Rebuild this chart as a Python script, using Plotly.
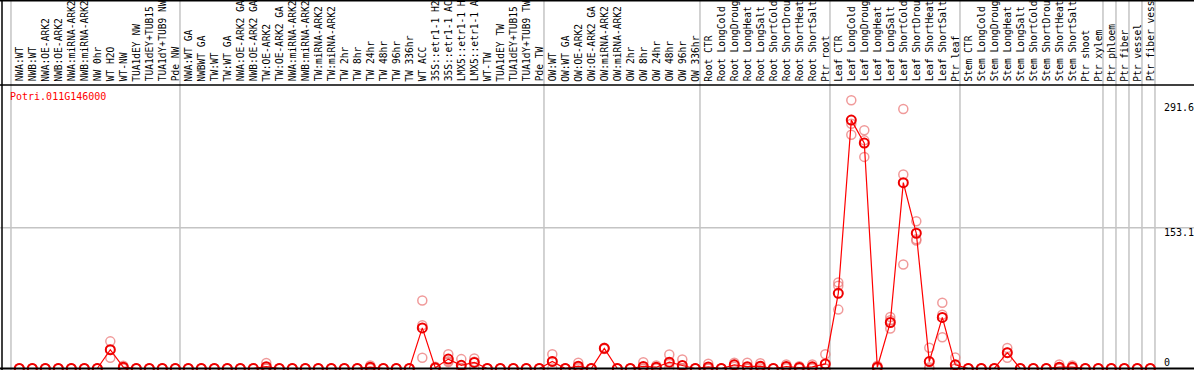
import plotly.graph_objects as go

W, H = 1194, 370

labels = [
    "NWA:WT", "NWB:WT", "NWA:OE-ARK2", "NWB:OE-ARK2", "NWA:miRNA-ARK2", "NWB:miRNA-ARK2",
    "NW 0hr", "WT H2O", "WT-NW", "TUA1dEY NW", "TUA1dEY+TUB15", "TUA1dY+TUB9 NW", "Pde NW",
    "NWA:WT GA", "NWBWT GA", "TW:WT", "TW:WT GA", "NWA:OE-ARK2 GA", "NWB:OE-ARK2 GA",
    "TW:OE-ARK2", "TW:OE-ARK2 GA", "NWA:miRNA-ARK2", "NWB:miRNA-ARK2", "TW:miRNA-ARK2",
    "TW:miRNA-ARK2", "TW 2hr", "TW 8hr", "TW 24hr", "TW 48hr", "TW 96hr", "TW 336hr",
    "WT ACC", "35S::etr1-1 H2", "35S::etr1-1 AC", "LMX5::etr1-1 H", "LMX5::etr1-1 A",
    "WT-TW", "TUA1dEY TW", "TUA1dEY+TUB15", "TUA1dY+TUB9 TW", "Pde TW",
    "OW:WT", "OW:WT GA", "OW:OE-ARK2", "OW:OE-ARK2 GA", "OW:miRNA-ARK2", "OW:miRNA-ARK2",
    "OW 2hr", "OW 8hr", "OW 24hr", "OW 48hr", "OW 96hr", "OW 336hr",
    "Root CTR", "Root LongCold", "Root LongDroug", "Root LongHeat", "Root LongSalt",
    "Root ShortCold", "Root ShortDrou", "Root ShortHeat", "Root ShortSalt", "Ptr root",
    "Leaf CTR", "Leaf LongCold", "Leaf LongDroug", "Leaf LongHeat", "Leaf LongSalt",
    "Leaf ShortCold", "Leaf ShortDrou", "Leaf ShortHeat", "Leaf ShortSalt", "Ptr leaf",
    "Stem CTR", "Stem LongCold", "Stem LongDroug", "Stem LongHeat", "Stem LongSalt",
    "Stem ShortCold", "Stem ShortDrou", "Stem ShortHeat", "Stem ShortSalt", "Ptr shoot",
    "Ptr xylem", "Ptr phloem", "Ptr fiber", "Ptr vessel", "Ptr fiber vess",
]

# last sample index of each group (separators drawn after these)
group_ends = [-1, 12, 40, 52, 62, 72, 83, 84, 85, 86, 87]

# mean expression per sample
mean = [
    0, 0, 0, 0, 0, 0, 0, 20.4, 1.4, 0, 0, 0, 0,
    0, 0, 0, 0, 0, 0, 2.0, 0, 0, 0, 0, 0, 0, 0, 1.4, 0, 0, 0,
    44.1, 0.7, 10.2, 3.4, 6.6, 0, 0, 0, 0, 0,
    7.7, 0, 2.5, 0, 21.9, 0, 0, 2.3, 1.4, 6.9, 3.3, 0,
    1.7, 0, 4.0, 2.0, 2.5, 0, 2.2, 1.1, 1.8, 5.0,
    81.7, 270.0, 245.0, 1.4, 50.0, 202.0, 147.0, 7.5, 55.5, 4.0,
    0, 0, 0, 17.2, 0, 0, 0, 1.4, 1.4, 0,
    0, 0, 0, 0, 0,
]

# replicate values
rep1 = [
    0, 0, 0, 0, 0, 0, 0, 29.5, 3.0, 0, 0, 0, 0,
    0, 0, 0, 0, 0, 0, 6.0, 0, 0, 0, 0, 0, 0, 0, 3.3, 0, 0, 0,
    74.0, 2.0, 15.6, 10.2, 10.9, 0, 0, 0, 0, 0,
    15.6, 0, 6.2, 0, 22.5, 0, 0, 6.9, 3.3, 15.3, 9.8, 0,
    5.1, 0, 6.2, 6.2, 5.8, 0, 4.4, 2.5, 4.4, 15.5,
    93.5, 291.6, 259.0, 3.0, 56.0, 282.0, 160.0, 22.5, 71.5, 12.0,
    0, 0, 0, 22.2, 0, 0, 0, 4.4, 3.3, 0,
    0, 0, 0, 0, 0,
]
rep2 = [
    0, 0, 0, 0, 0, 0, 0, 20.0, 1.0, 0, 0, 0, 0,
    0, 0, 0, 0, 0, 0, 0, 0, 0, 0, 0, 0, 0, 0, 1.0, 0, 0, 0,
    47.0, 0, 8.0, 0, 7.3, 0, 0, 0, 0, 0,
    7.5, 0, 1.0, 0, 21.9, 0, 0, 0, 1.0, 5.0, 0, 0,
    0, 0, 4.0, 0, 1.7, 0, 2.0, 0.8, 1.0, 0,
    90.0, 266.0, 248.0, 1.0, 52.5, 211.0, 140.5, 1.4, 58.5, 0,
    0, 0, 0, 17.5, 0, 0, 0, 0, 1.0, 0,
    0, 0, 0, 0, 0,
]
rep3 = [
    0, 0, 0, 0, 0, 0, 0, 11.7, 0, 0, 0, 0, 0,
    0, 0, 0, 0, 0, 0, 0, 0, 0, 0, 0, 0, 0, 0, 0, 0, 0, 0,
    11.7, 0, 6.9, 0, 0.8, 0, 0, 0, 0, 0,
    0, 0, 0, 0, 21.3, 0, 0, 0, 0, 0.5, 0, 0,
    0, 0, 1.8, 0, 0, 0, 0.2, 0, 0, 0,
    64.0, 254.0, 230.0, 0, 43.4, 113.0, 139.0, 0, 34.0, 0,
    0, 0, 0, 11.7, 0, 0, 0, 0, 0, 0,
    0, 0, 0, 0, 0,
]

gene = "Potri.011G146000"
ytick_vals = [291.6, 153.1, 0]
ytick_text = ["291.6", "153.1", "0"]

# pixel geometry
X0PX, DXPX = 19.3, 13.0          # pixel of first sample, spacing
Y0PX, DYPX = 368.5, 0.92         # pixel of value 0, pixels per unit
xr = [-X0PX / DXPX, (W - X0PX) / DXPX]
yr = [-(H - Y0PX) / DYPX, Y0PX / DYPX]

def py(p):
    return 1 - p / H

x = list(range(len(labels)))
mono = "DejaVu Sans Mono"

fig = go.Figure()
reps_x, reps_y = [], []
for r in (rep1, rep2, rep3):
    reps_x += x
    reps_y += r
fig.add_trace(go.Scatter(
    x=reps_x, y=reps_y, mode="markers", hoverinfo="skip",
    marker=dict(symbol="circle-open", size=9, color="rgba(235,120,120,0.75)",
                line=dict(width=1.5)),
    showlegend=False, cliponaxis=False))
fig.add_trace(go.Scatter(
    x=x, y=mean, mode="lines+markers",
    line=dict(color="#ff0000", width=1.2),
    marker=dict(symbol="circle-open", size=9, color="#ee0000", line=dict(width=2)),
    showlegend=False, cliponaxis=False))

shapes = []
for e in group_ends:
    xv = e + 0.5 - 0.14
    shapes.append(dict(type="line", xref="x", yref="paper", x0=xv, x1=xv, y0=0, y1=1,
                       line=dict(color="#c4c4c4", width=1.5), layer="below"))
shapes.append(dict(type="line", xref="paper", yref="y", x0=0, x1=1, y0=153.1, y1=153.1,
                   line=dict(color="#c4c4c4", width=1.5), layer="below"))
# frame lines
shapes.append(dict(type="line", xref="paper", yref="paper", x0=0, x1=1, y0=py(85), y1=py(85),
                   line=dict(color="black", width=1.5)))
shapes.append(dict(type="line", xref="paper", yref="paper", x0=0, x1=1, y0=py(0.5), y1=py(0.5),
                   line=dict(color="black", width=2)))
shapes.append(dict(type="line", xref="paper", yref="y", x0=0, x1=1, y0=0, y1=0,
                   line=dict(color="black", width=2)))
shapes.append(dict(type="line", xref="paper", yref="paper", x0=2 / W, x1=2 / W, y0=0, y1=1,
                   line=dict(color="black", width=1.5)))

ann = []
for i, lab in enumerate(labels):
    ann.append(dict(x=i, y=py(83.5), xref="x", yref="paper", text=lab, showarrow=False,
                    textangle=-90, xanchor="center", yanchor="bottom",
                    font=dict(family=mono, size=9.6, color="black")))
ann.append(dict(x=8 / W, y=py(96), xref="paper", yref="paper", text=gene, showarrow=False,
                xanchor="left", yanchor="middle", font=dict(family=mono, size=10, color="red")))
ylab_py = [107.5, 232, 362]
for t, p in zip(ytick_text, ylab_py):
    ann.append(dict(x=1162 / W, y=py(p), xref="paper", yref="paper", text=t, showarrow=False,
                    xanchor="left", yanchor="middle", font=dict(family=mono, size=10, color="black")))

fig.update_layout(
    width=W, height=H, autosize=False,
    margin=dict(l=0, r=0, t=0, b=0, pad=0),
    paper_bgcolor="white", plot_bgcolor="white",
    xaxis=dict(range=xr, visible=False, fixedrange=True),
    yaxis=dict(range=yr, visible=False, fixedrange=True),
    shapes=shapes, annotations=ann,
)

fig.write_html("out.html", config={"displayModeBar": False},
               post_script="document.body.style.margin='0';document.body.style.overflow='hidden';")
